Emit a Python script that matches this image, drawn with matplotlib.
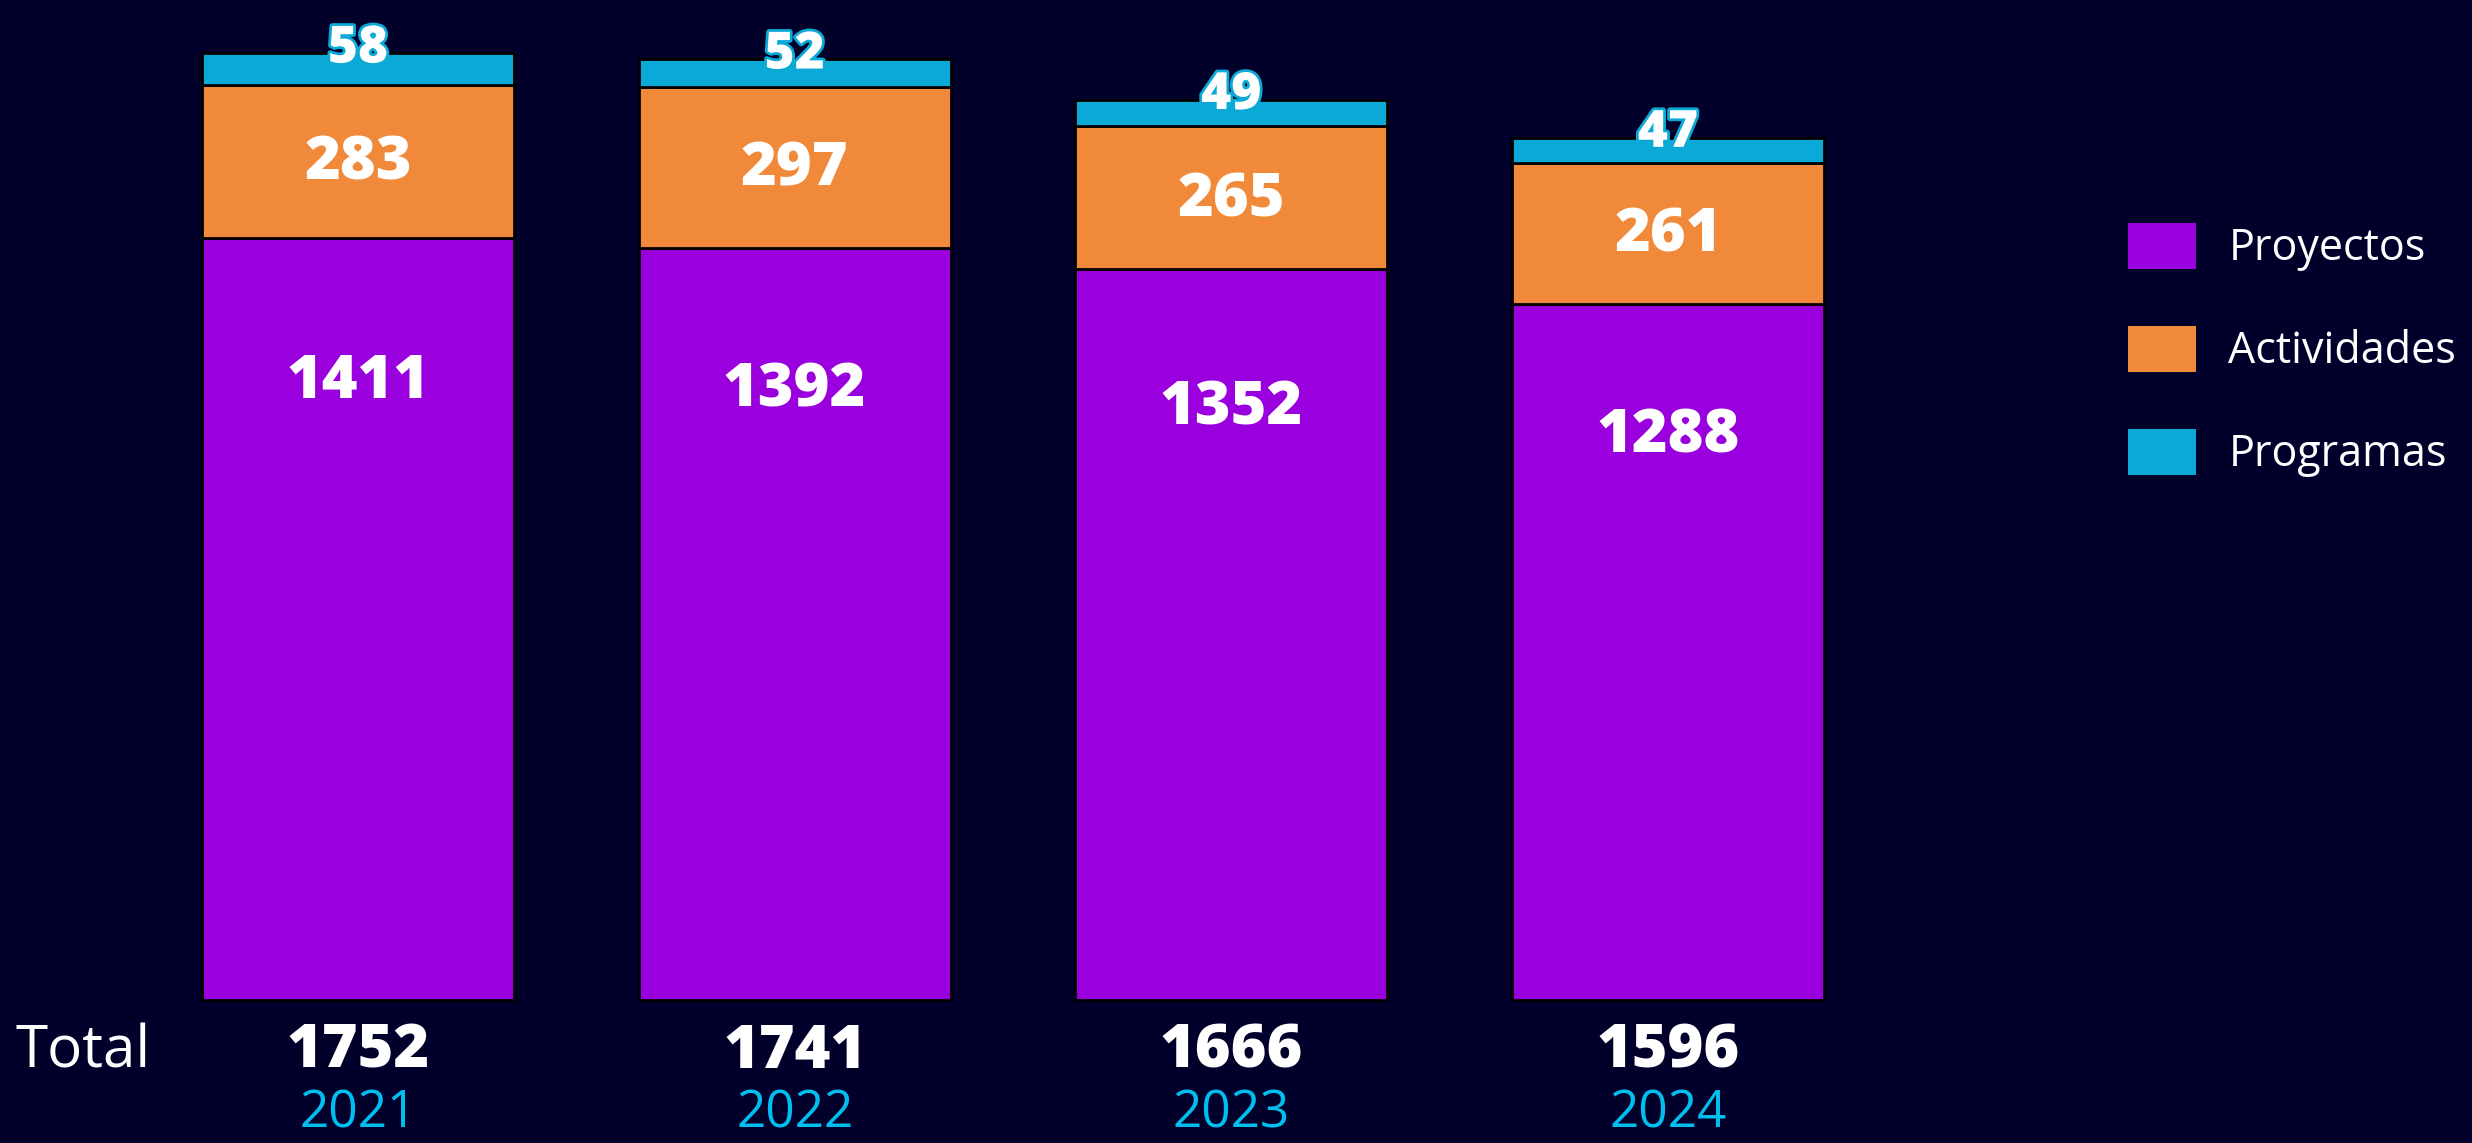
import matplotlib
matplotlib.use("Agg")
import matplotlib.pyplot as plt
import matplotlib.patheffects as pe

# data
years = ["2021", "2022", "2023", "2024"]
proyectos = [1411, 1392, 1352, 1288]
actividades = [283, 297, 265, 261]
programas = [58, 52, 49, 47]
totales = [1752, 1741, 1666, 1596]

bg = "#00002a"
c_proy = "#9900dd"
c_act = "#f08a3a"
c_prog = "#0aa9d6"
c_year = "#00bfef"

plt.rcParams["font.family"] = ["Open Sans", "DejaVu Sans"]

fig = plt.figure(figsize=(24.72, 11.43), dpi=100, facecolor=bg)
ax = fig.add_axes([0, 0, 1, 1])
ax.set_facecolor(bg)

x = list(range(len(years)))
width = 0.715
bottom2 = [p + a for p, a in zip(proyectos, actividades)]

b1 = ax.bar(x, proyectos, width, color=c_proy, edgecolor="black", linewidth=2, label="Proyectos")
b2 = ax.bar(x, actividades, width, bottom=proyectos, color=c_act, edgecolor="black", linewidth=2, label="Actividades")
b3 = ax.bar(x, programas, width, bottom=bottom2, color=c_prog, edgecolor="black", linewidth=2, label="Programas")

# labels inside bars
for i in x:
    ax.text(i, proyectos[i] * 0.81, str(proyectos[i]), ha="center", va="center",
            color="white", fontsize=44, fontweight=800)
    ax.text(i, proyectos[i] + actividades[i] / 2 - 4, str(actividades[i]), ha="center", va="center",
            color="white", fontsize=44, fontweight=800)
    ax.text(i, bottom2[i] + programas[i] + 8, str(programas[i]), ha="center", va="center",
            color="white", fontsize=37, fontweight=800,
            path_effects=[pe.withStroke(linewidth=4, foreground=c_prog)])
    ax.text(i, -97, str(totales[i]), ha="center", va="center",
            color="white", fontsize=44, fontweight=800)
    ax.text(i, -212, years[i], ha="center", va="center", color=c_year, fontsize=37)

ax.text(-0.785, -97, "Total", ha="left", va="center", color="white", fontsize=42)

ax.set_xlim(-358 / 436.67, (2472 - 358) / 436.67)
ax.set_ylim(-(1143 - 999.5) / 0.54, 999.5 / 0.54)
ax.axis("off")

leg = ax.legend(handles=[b1, b2, b3], loc="center left",
                bbox_to_anchor=(2128 / 2472, (1143 - 350) / 1143),
                bbox_transform=fig.transFigure, frameon=False, fontsize=31,
                labelcolor="white", handlelength=1.58, handleheight=1.26,
                handletextpad=0.75, labelspacing=1.27, borderpad=0, borderaxespad=0)
for h in leg.legend_handles:
    h.set_edgecolor("none")

fig.savefig("out.png", dpi=100, facecolor=bg)
